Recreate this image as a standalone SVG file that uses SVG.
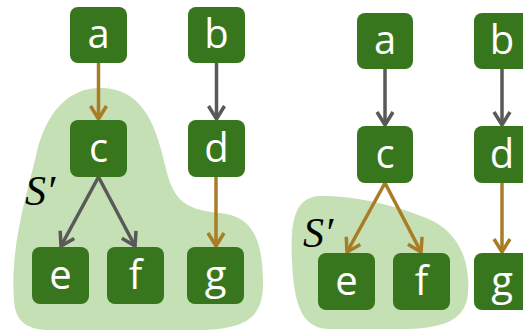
<svg xmlns="http://www.w3.org/2000/svg" width="523" height="331" viewBox="0 0 523 331">
  <style>
    .box { fill: #38761d; }
    .lbl { fill: #ffffff; font-family: "Open Sans", "Noto Sans", sans-serif; font-size: 40px; text-anchor: middle; }
    .blob { fill: #c5e0b4; }
    .set { fill: #000000; font-family: "Liberation Serif", "DejaVu Serif", serif; font-style: italic; font-size: 42px; }
    .gray { stroke: #595959; stroke-width: 3.5; fill: none; marker-end: url(#hGray); }
    .gold { stroke: #a97c26; stroke-width: 3.5; fill: none; marker-end: url(#hGold); }
  </style>
  <defs>
    <marker id="hGray" viewBox="0 0 18 20" refX="15" refY="10" markerWidth="18" markerHeight="20" markerUnits="userSpaceOnUse" orient="auto">
      <path d="M2,2 L15,10 L2,18" fill="none" stroke="#595959" stroke-width="3.5"/>
    </marker>
    <marker id="hGold" viewBox="0 0 18 20" refX="15" refY="10" markerWidth="18" markerHeight="20" markerUnits="userSpaceOnUse" orient="auto">
      <path d="M2,2 L15,10 L2,18" fill="none" stroke="#a97c26" stroke-width="3.5"/>
    </marker>
  </defs>

  <!-- subset regions -->
  <g id="regions">
    <path class="blob" d="M14,300 C10,250 25,200 35,160 C45,110 70,88 100,88 C140,88 155,120 165,165 C172,195 180,210 220,213 C250,216 262,235 263,280 C264,315 250,329 200,330 L50,330 C25,330 15,320 14,300 Z"/>
    <path class="blob" d="M292,262 C290,220 295,197 320,196 C350,195 400,205 435,222 C462,238 470,265 468,293 C466,322 440,329 400,329 L330,329 C302,329 294,305 292,262 Z"/>
    <text class="set" x="25" y="205">S′</text>
    <text class="set" x="303" y="247">S′</text>
  </g>

  <!-- edges -->
  <g id="connectors">
    <line class="gold" x1="98.5" y1="63" x2="98.5" y2="119"/>
    <line class="gray" x1="216.5" y1="63" x2="216.5" y2="119"/>
    <line class="gray" x1="98.5" y1="177" x2="61" y2="246"/>
    <line class="gray" x1="98.5" y1="177" x2="135" y2="246"/>
    <line class="gold" x1="216" y1="177" x2="216" y2="246"/>

    <line class="gray" x1="385" y1="69" x2="385" y2="125"/>
    <line class="gray" x1="502" y1="69" x2="502" y2="125"/>
    <line class="gold" x1="385" y1="183" x2="347" y2="252"/>
    <line class="gold" x1="385" y1="183" x2="421" y2="252"/>
    <line class="gold" x1="502" y1="183" x2="502" y2="252"/>
  </g>

  <!-- left graph -->
  <g id="a1"><rect class="box" x="70" y="7" width="57" height="56" rx="8"/><text class="lbl" x="98.5" y="48">a</text></g>
  <g id="b1"><rect class="box" x="188" y="7" width="57" height="56" rx="8"/><text class="lbl" x="216.5" y="48">b</text></g>
  <g id="c1"><rect class="box" x="70" y="120" width="57" height="57" rx="8"/><text class="lbl" x="98.5" y="162">c</text></g>
  <g id="d1"><rect class="box" x="188" y="120" width="57" height="57" rx="8"/><text class="lbl" x="216.5" y="162">d</text></g>
  <g id="e1"><rect class="box" x="32" y="247" width="57" height="57" rx="8"/><text class="lbl" x="60.5" y="289">e</text></g>
  <g id="f1"><rect class="box" x="107" y="247" width="57" height="57" rx="8"/><text class="lbl" x="135.5" y="289">f</text></g>
  <g id="g1"><rect class="box" x="187" y="247" width="57" height="57" rx="8"/><text class="lbl" x="215.5" y="289">g</text></g>

  <!-- right graph -->
  <g id="a2"><rect class="box" x="357" y="13" width="56" height="56" rx="8"/><text class="lbl" x="385" y="54">a</text></g>
  <g id="b2"><rect class="box" x="474" y="13" width="57" height="56" rx="8"/><text class="lbl" x="502" y="54">b</text></g>
  <g id="c2"><rect class="box" x="357" y="126" width="56" height="57" rx="8"/><text class="lbl" x="385" y="168">c</text></g>
  <g id="d2"><rect class="box" x="474" y="126" width="57" height="57" rx="8"/><text class="lbl" x="502" y="168">d</text></g>
  <g id="e2"><rect class="box" x="318" y="253" width="57" height="57" rx="8"/><text class="lbl" x="346.5" y="295">e</text></g>
  <g id="f2"><rect class="box" x="393" y="253" width="57" height="57" rx="8"/><text class="lbl" x="421.5" y="295">f</text></g>
  <g id="g2"><rect class="box" x="474" y="253" width="57" height="57" rx="8"/><text class="lbl" x="502" y="295">g</text></g>
</svg>
